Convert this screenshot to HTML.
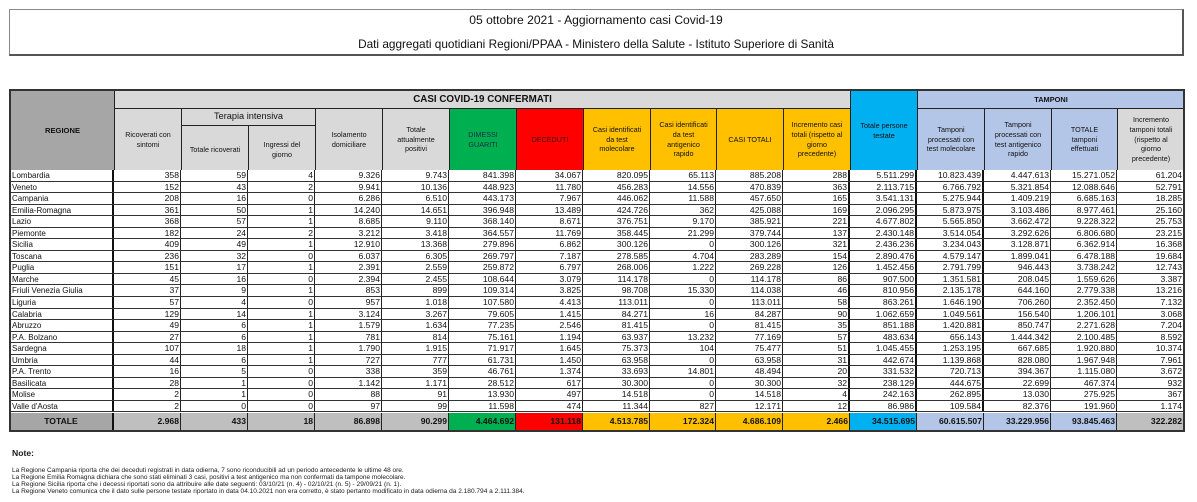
<!DOCTYPE html>
<html><head><meta charset="utf-8">
<style>
html,body{margin:0;padding:0;background:#fff;}
body{width:1197px;height:502px;position:relative;overflow:hidden;font-family:"Liberation Sans",Arial,sans-serif;color:#111;}
.title{position:absolute;left:9px;top:9px;width:1175px;height:47px;box-sizing:border-box;border:1px solid #888;border-right:2px solid #555;border-bottom:2px solid #555;}
.t1,.t2{position:absolute;left:0;width:100%;text-align:center;white-space:nowrap;color:#111;}
.t1{top:3px;font-size:12.1px;}
.t2{top:27px;font-size:11.8px;}
.h{position:absolute;box-sizing:border-box;border:1px solid #222;display:flex;align-items:center;justify-content:center;text-align:center;font-size:7.2px;line-height:9.8px;background:#d9d9d9;color:#111;}
.b{font-weight:bold;}
.gr{background:#a6a6a6;}
.yl{background:#ffc000;}
.gn{background:#00b050;}
.rd{background:#ff0000;}
.bl{background:#00b0f0;}
.lb{background:#b4c6e7;}
.lg{background:#d9d9d9;}
.sg{background:#bfbfbf;}
#body{position:absolute;left:10px;top:170px;width:1174px;}
.row{display:grid;grid-template-columns:104px 67px 67px 67px 67px 67px 67px 67px 67px 66px 67px 67px 67px 67px 67px 66px 67px;height:11.55px;box-sizing:border-box;border-bottom:1px solid #333;font-size:8.6px;line-height:11px;background:#fff;}
.row div{border-right:1px solid #222;text-align:right;padding-right:1px;overflow:hidden;white-space:nowrap;}
.row div:first-child{text-align:left;padding-left:2px;font-size:8px;border-right:2px solid #111;}
.row div:nth-child(12),.row div:nth-child(13),.row div:nth-child(14){border-right:2px solid #111;}
.tot{position:absolute;left:10px;top:412.6px;width:1174px;display:grid;grid-template-columns:104px 67px 67px 67px 67px 67px 67px 67px 67px 66px 67px 67px 67px 67px 67px 66px 67px;height:18px;font-size:8.6px;line-height:17px;font-weight:bold;}
.tot div{border-right:1px solid #222;text-align:right;padding-right:1px;white-space:nowrap;background:#bfbfbf;}
.tot div:first-child{text-align:center;padding:0;background:#a6a6a6;border-right:2px solid #111;}
.tot .c7{background:#00b050;}
.tot .c8{background:#ff0000;}
.tot .c9,.tot .c10,.tot .c11,.tot .c12{background:#ffc000;}
.tot .c13{background:#00b0f0;}
.tot .c14,.tot .c15,.tot .c16{background:#b4c6e7;}
.frame{position:absolute;left:9px;top:89px;width:1176px;height:343px;box-sizing:border-box;border:2px solid #333;pointer-events:none;}
.note{position:absolute;left:12px;white-space:nowrap;color:#1a1a1a;}
</style></head><body>

<div class="title">
<div class="t1">05 ottobre 2021 - Aggiornamento casi Covid-19</div>
<div class="t2">Dati aggregati quotidiani Regioni/PPAA - Ministero della Salute - Istituto Superiore di Sanità</div>
</div>

<!-- header -->
<div class="h gr b" style="left:10px;top:90px;width:105px;height:81px;font-size:7.6px;">REGIONE</div>
<div class="h b" style="left:114px;top:90px;width:737px;height:19px;font-size:9.8px;">CASI COVID-19 CONFERMATI</div>
<div class="h" style="left:114px;top:108px;width:68px;height:63px;">Ricoverati con<br>sintomi</div>
<div class="h" style="left:181px;top:108px;width:135px;height:18px;font-size:9.2px;">Terapia intensiva</div>
<div class="h" style="left:181px;top:125px;width:68px;height:46px;padding-top:4px;">Totale ricoverati</div>
<div class="h" style="left:248px;top:125px;width:68px;height:46px;padding-top:4px;">Ingressi del<br>giorno</div>
<div class="h" style="left:315px;top:108px;width:68px;height:63px;">Isolamento<br>domiciliare</div>
<div class="h" style="left:382px;top:108px;width:68px;height:63px;">Totale<br>attualmente<br>positivi</div>
<div class="h gn" style="left:449px;top:108px;width:68px;height:63px;color:#1b2a48;">DIMESSI<br>GUARITI</div>
<div class="h rd" style="left:516px;top:108px;width:68px;height:63px;color:#3a1010;">DECEDUTI</div>
<div class="h yl" style="left:583px;top:108px;width:68px;height:63px;">Casi identificati<br>da test<br>molecolare</div>
<div class="h yl" style="left:650px;top:108px;width:67px;height:63px;">Casi identificati<br>da test<br>antigenico<br>rapido</div>
<div class="h yl" style="left:716px;top:108px;width:68px;height:63px;">CASI TOTALI</div>
<div class="h yl" style="left:783px;top:108px;width:68px;height:63px;">Incremento casi<br>totali (rispetto al<br>giorno<br>precedente)</div>
<div class="h bl" style="left:850px;top:90px;width:68px;height:81px;">Totale persone<br>testate</div>
<div class="h lb b" style="left:917px;top:90px;width:268px;height:19px;font-size:7.4px;">TAMPONI</div>
<div class="h lb" style="left:917px;top:108px;width:68px;height:63px;">Tamponi<br>processati con<br>test molecolare</div>
<div class="h lb" style="left:984px;top:108px;width:68px;height:63px;">Tamponi<br>processati con<br>test antigenico<br>rapido</div>
<div class="h lb" style="left:1051px;top:108px;width:67px;height:63px;">TOTALE<br>tamponi<br>effettuati</div>
<div class="h lg" style="left:1117px;top:108px;width:68px;height:63px;">Incremento<br>tamponi totali<br>(rispetto al<br>giorno<br>precedente)</div>

<div id="body">
<div class="row"><div>Lombardia</div><div>358</div><div>59</div><div>4</div><div>9.326</div><div>9.743</div><div>841.398</div><div>34.067</div><div>820.095</div><div>65.113</div><div>885.208</div><div>288</div><div>5.511.299</div><div>10.823.439</div><div>4.447.613</div><div>15.271.052</div><div>61.204</div></div>
<div class="row"><div>Veneto</div><div>152</div><div>43</div><div>2</div><div>9.941</div><div>10.136</div><div>448.923</div><div>11.780</div><div>456.283</div><div>14.556</div><div>470.839</div><div>363</div><div>2.113.715</div><div>6.766.792</div><div>5.321.854</div><div>12.088.646</div><div>52.791</div></div>
<div class="row"><div>Campania</div><div>208</div><div>16</div><div>0</div><div>6.286</div><div>6.510</div><div>443.173</div><div>7.967</div><div>446.062</div><div>11.588</div><div>457.650</div><div>165</div><div>3.541.131</div><div>5.275.944</div><div>1.409.219</div><div>6.685.163</div><div>18.285</div></div>
<div class="row"><div>Emilia-Romagna</div><div>361</div><div>50</div><div>1</div><div>14.240</div><div>14.651</div><div>396.948</div><div>13.489</div><div>424.726</div><div>362</div><div>425.088</div><div>169</div><div>2.096.295</div><div>5.873.975</div><div>3.103.486</div><div>8.977.461</div><div>25.160</div></div>
<div class="row"><div>Lazio</div><div>368</div><div>57</div><div>1</div><div>8.685</div><div>9.110</div><div>368.140</div><div>8.671</div><div>376.751</div><div>9.170</div><div>385.921</div><div>221</div><div>4.677.802</div><div>5.565.850</div><div>3.662.472</div><div>9.228.322</div><div>25.753</div></div>
<div class="row"><div>Piemonte</div><div>182</div><div>24</div><div>2</div><div>3.212</div><div>3.418</div><div>364.557</div><div>11.769</div><div>358.445</div><div>21.299</div><div>379.744</div><div>137</div><div>2.430.148</div><div>3.514.054</div><div>3.292.626</div><div>6.806.680</div><div>23.215</div></div>
<div class="row"><div>Sicilia</div><div>409</div><div>49</div><div>1</div><div>12.910</div><div>13.368</div><div>279.896</div><div>6.862</div><div>300.126</div><div>0</div><div>300.126</div><div>321</div><div>2.436.236</div><div>3.234.043</div><div>3.128.871</div><div>6.362.914</div><div>16.368</div></div>
<div class="row"><div>Toscana</div><div>236</div><div>32</div><div>0</div><div>6.037</div><div>6.305</div><div>269.797</div><div>7.187</div><div>278.585</div><div>4.704</div><div>283.289</div><div>154</div><div>2.890.476</div><div>4.579.147</div><div>1.899.041</div><div>6.478.188</div><div>19.684</div></div>
<div class="row"><div>Puglia</div><div>151</div><div>17</div><div>1</div><div>2.391</div><div>2.559</div><div>259.872</div><div>6.797</div><div>268.006</div><div>1.222</div><div>269.228</div><div>126</div><div>1.452.456</div><div>2.791.799</div><div>946.443</div><div>3.738.242</div><div>12.743</div></div>
<div class="row"><div>Marche</div><div>45</div><div>16</div><div>0</div><div>2.394</div><div>2.455</div><div>108.644</div><div>3.079</div><div>114.178</div><div>0</div><div>114.178</div><div>86</div><div>907.500</div><div>1.351.581</div><div>208.045</div><div>1.559.626</div><div>3.387</div></div>
<div class="row"><div>Friuli Venezia Giulia</div><div>37</div><div>9</div><div>1</div><div>853</div><div>899</div><div>109.314</div><div>3.825</div><div>98.708</div><div>15.330</div><div>114.038</div><div>46</div><div>810.956</div><div>2.135.178</div><div>644.160</div><div>2.779.338</div><div>13.216</div></div>
<div class="row"><div>Liguria</div><div>57</div><div>4</div><div>0</div><div>957</div><div>1.018</div><div>107.580</div><div>4.413</div><div>113.011</div><div>0</div><div>113.011</div><div>58</div><div>863.261</div><div>1.646.190</div><div>706.260</div><div>2.352.450</div><div>7.132</div></div>
<div class="row"><div>Calabria</div><div>129</div><div>14</div><div>1</div><div>3.124</div><div>3.267</div><div>79.605</div><div>1.415</div><div>84.271</div><div>16</div><div>84.287</div><div>90</div><div>1.062.659</div><div>1.049.561</div><div>156.540</div><div>1.206.101</div><div>3.068</div></div>
<div class="row"><div>Abruzzo</div><div>49</div><div>6</div><div>1</div><div>1.579</div><div>1.634</div><div>77.235</div><div>2.546</div><div>81.415</div><div>0</div><div>81.415</div><div>35</div><div>851.188</div><div>1.420.881</div><div>850.747</div><div>2.271.628</div><div>7.204</div></div>
<div class="row"><div>P.A. Bolzano</div><div>27</div><div>6</div><div>1</div><div>781</div><div>814</div><div>75.161</div><div>1.194</div><div>63.937</div><div>13.232</div><div>77.169</div><div>57</div><div>483.634</div><div>656.143</div><div>1.444.342</div><div>2.100.485</div><div>8.592</div></div>
<div class="row"><div>Sardegna</div><div>107</div><div>18</div><div>1</div><div>1.790</div><div>1.915</div><div>71.917</div><div>1.645</div><div>75.373</div><div>104</div><div>75.477</div><div>51</div><div>1.045.455</div><div>1.253.195</div><div>667.685</div><div>1.920.880</div><div>10.374</div></div>
<div class="row"><div>Umbria</div><div>44</div><div>6</div><div>1</div><div>727</div><div>777</div><div>61.731</div><div>1.450</div><div>63.958</div><div>0</div><div>63.958</div><div>31</div><div>442.674</div><div>1.139.868</div><div>828.080</div><div>1.967.948</div><div>7.961</div></div>
<div class="row"><div>P.A. Trento</div><div>16</div><div>5</div><div>0</div><div>338</div><div>359</div><div>46.761</div><div>1.374</div><div>33.693</div><div>14.801</div><div>48.494</div><div>20</div><div>331.532</div><div>720.713</div><div>394.367</div><div>1.115.080</div><div>3.672</div></div>
<div class="row"><div>Basilicata</div><div>28</div><div>1</div><div>0</div><div>1.142</div><div>1.171</div><div>28.512</div><div>617</div><div>30.300</div><div>0</div><div>30.300</div><div>32</div><div>238.129</div><div>444.675</div><div>22.699</div><div>467.374</div><div>932</div></div>
<div class="row"><div>Molise</div><div>2</div><div>1</div><div>0</div><div>88</div><div>91</div><div>13.930</div><div>497</div><div>14.518</div><div>0</div><div>14.518</div><div>4</div><div>242.163</div><div>262.895</div><div>13.030</div><div>275.925</div><div>367</div></div>
<div class="row"><div>Valle d'Aosta</div><div>2</div><div>0</div><div>0</div><div>97</div><div>99</div><div>11.598</div><div>474</div><div>11.344</div><div>827</div><div>12.171</div><div>12</div><div>86.986</div><div>109.584</div><div>82.376</div><div>191.960</div><div>1.174</div></div>
</div>

<div class="tot"><div>TOTALE</div><div>2.968</div><div>433</div><div>18</div><div>86.898</div><div>90.299</div><div class="c7">4.464.692</div><div class="c8">131.118</div><div class="c9">4.513.785</div><div class="c10">172.324</div><div class="c11">4.686.109</div><div class="c12">2.466</div><div class="c13">34.515.695</div><div class="c14">60.615.507</div><div class="c15">33.229.956</div><div class="c16">93.845.463</div><div>322.282</div></div>

<div class="frame"></div>

<div class="note" style="top:448px;font-size:8.6px;font-weight:bold;">Note:</div>
<div class="note" style="top:467px;font-size:6.5px;">La Regione Campania riporta che dei deceduti registrati in data odierna, 7 sono riconducibili ad un periodo antecedente le ultime 48 ore.</div>
<div class="note" style="top:474.3px;font-size:6.5px;">La Regione Emilia Romagna dichiara che sono stati eliminati 3 casi, positivi a test antigenico ma non confermati da tampone molecolare.</div>
<div class="note" style="top:481px;font-size:6.6px;">La Regione Sicilia riporta che i decessi riportati sono da attribuire alle date seguenti: 03/10/21 (n. 4) - 02/10/21 (n. 5) - 29/09/21 (n. 1).</div>
<div class="note" style="top:488.3px;font-size:6.55px;">La Regione Veneto comunica che il dato sulle persone testate riportato in data 04.10.2021 non era corretto, è stato pertanto modificato in data odierna da 2.180.794 a 2.111.384.</div>

</body></html>
